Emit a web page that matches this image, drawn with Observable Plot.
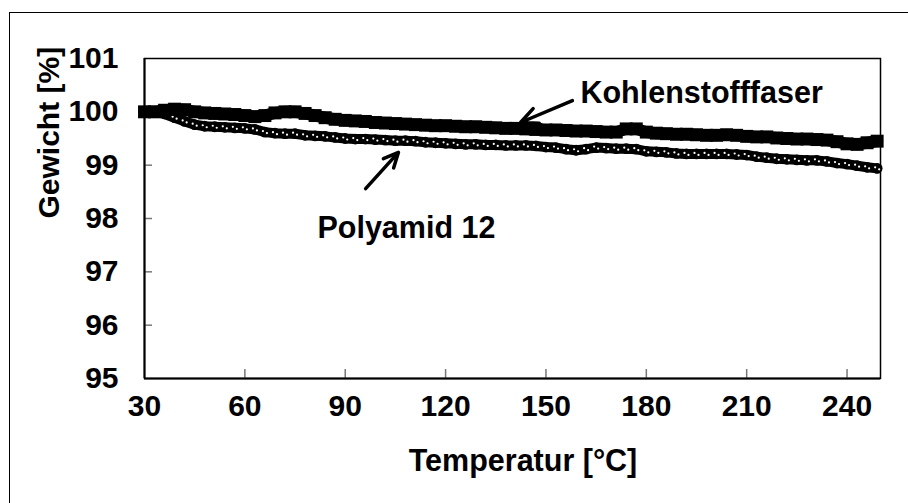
<!DOCTYPE html>
<html>
<head>
<meta charset="utf-8">
<script src="https://cdn.jsdelivr.net/npm/d3@7"></script>
<script src="https://cdn.jsdelivr.net/npm/@observablehq/plot@0.6"></script>
<style>
  html, body { margin: 0; padding: 0; background: #fff; overflow: hidden; }
  #wrap { position: relative; width: 908px; height: 503px; }
  #border { position: absolute; left: 9px; top: 12px; width: 910px; height: 510px; border: 1.5px solid #000; box-sizing: border-box; pointer-events: none; }
</style>
</head>
<body>
<div id="wrap"><div id="border"></div></div>
<script>
// Temperature [°C]
const temps = [30,33,36,39,42,45,48,51,54,57,60,63,66,69,72,75,78,81,84,87,90,93,96,99,102,105,108,111,114,117,120,123,126,129,132,135,138,141,144,147,150,153,156,159,162,165,168,171,174,177,180,183,186,189,192,195,198,201,204,207,210,213,216,219,222,225,228,231,234,237,240,243,246,249];
// Kohlenstofffaser weight [%]
const carbon = [100.00,100.00,100.03,100.05,100.04,100.00,99.98,99.97,99.96,99.95,99.93,99.91,99.93,99.98,100.00,100.00,99.97,99.93,99.89,99.86,99.84,99.83,99.82,99.80,99.79,99.78,99.77,99.76,99.75,99.74,99.74,99.73,99.72,99.72,99.71,99.70,99.69,99.69,99.68,99.67,99.66,99.66,99.65,99.64,99.64,99.63,99.62,99.62,99.68,99.68,99.62,99.60,99.59,99.58,99.58,99.57,99.56,99.56,99.57,99.56,99.54,99.53,99.53,99.51,99.50,99.49,99.49,99.48,99.47,99.44,99.40,99.39,99.42,99.45];
// Polyamid 12 weight [%]
const polyamid = [100.00,100.00,99.96,99.89,99.82,99.76,99.73,99.72,99.71,99.70,99.69,99.67,99.62,99.60,99.59,99.59,99.56,99.55,99.54,99.52,99.50,99.49,99.49,99.48,99.47,99.46,99.46,99.45,99.43,99.42,99.41,99.40,99.39,99.39,99.38,99.38,99.37,99.37,99.37,99.36,99.34,99.33,99.30,99.28,99.30,99.33,99.32,99.31,99.31,99.30,99.26,99.25,99.24,99.22,99.21,99.21,99.21,99.21,99.21,99.20,99.19,99.16,99.14,99.12,99.11,99.10,99.09,99.09,99.07,99.04,99.02,98.99,98.96,98.94];

const xTicks = [30,60,90,120,150,180,210,240];
const yTicks = [95,96,97,98,99,100,101];
const xTitle = "Temperatur [°C]";
const yTitle = "Gewicht [%]";

// Annotations (data coordinates)
const labels = [
  {name: "Kohlenstofffaser", x: 160.3, y: 100.17},
  {name: "Polyamid 12", x: 81.7, y: 97.64}
];
const arrows = [
  {x1: 157.9, y1: 100.21, x2: 142.4, y2: 99.80},
  {x1: 96.1, y1: 98.56, x2: 105.9, y2: 99.24}
];

const cfData = temps.map((t, i) => ({t, w: carbon[i]}));
const paData = temps.map((t, i) => ({t, w: polyamid[i]}));

const chart = Plot.plot({
  width: 908,
  height: 503,
  marginLeft: 144,
  marginRight: 28,
  marginTop: 58,
  marginBottom: 125,
  style: {fontFamily: "'Liberation Sans', Arial, sans-serif", fontSize: "30px", fontWeight: "bold", color: "#000", background: "transparent"},
  x: {domain: [30, 250]},
  y: {domain: [95, 101]},
  marks: [
    Plot.frame({stroke: "#000", strokeWidth: 1.5}),
    Plot.axisY({ticks: yTicks.slice(1, -1), tickSize: 8, dx: 8, text: null, stroke: "#777", strokeWidth: 1.5}),
    Plot.axisX({ticks: xTicks.slice(1), tickSize: 9, dy: -9, text: null, stroke: "#777", strokeWidth: 1.5}),
    Plot.axisY({ticks: yTicks, tickFormat: d => String(d), tickSize: 0, tickPadding: 26, label: null, fontSize: 30, fontWeight: "bold", fill: "#000"}),
    Plot.axisX({ticks: xTicks, tickFormat: d => String(d), tickSize: 0, tickPadding: 16, label: null, fontSize: 30, fontWeight: "bold", fill: "#000"}),
    Plot.ruleX([30], {stroke: "#000", strokeWidth: 2}),
    Plot.ruleY([95], {stroke: "#000", strokeWidth: 2}),
    // Polyamid 12: open circles
    Plot.line(paData, {x: "t", y: "w", stroke: "#000", strokeWidth: 10}),
    Plot.dot(paData, {x: "t", y: "w", r: 4.6, fill: "none", stroke: "#000", strokeWidth: 1.6}),
    Plot.dot(paData, {x: "t", y: "w", r: 1.1, fill: "#fff", dx: -2, dy: -1}),
    Plot.dot(paData, {x: "t", y: "w", r: 1.1, fill: "#fff", dx: 2, dy: 1}),
    // Kohlenstofffaser: filled squares
    Plot.line(cfData, {x: "t", y: "w", stroke: "#000", strokeWidth: 12}),
    Plot.dot(cfData, {x: "t", y: "w", symbol: "square", r: 7.3, fill: "#000"}),
    // annotations
    Plot.arrow(arrows, {x1: "x1", y1: "y1", x2: "x2", y2: "y2", stroke: "#000", strokeWidth: 3.5, headLength: 16, headAngle: 50}),
    Plot.text(labels, {x: "x", y: "y", text: "name", textAnchor: "start", lineAnchor: "bottom", fontSize: 30.5, fontWeight: "bold", fill: "#000"}),
    // axis titles
    Plot.text([yTitle], {frameAnchor: "left", dx: -95.5, rotate: -90, fontSize: 30, fontWeight: "bold", fill: "#000"}),
    Plot.text([xTitle], {frameAnchor: "bottom", dx: 10.5, dy: 92, fontSize: 30.5, fontWeight: "bold", fill: "#000"})
  ]
});
document.getElementById("wrap").prepend(chart);
</script>
</body>
</html>
